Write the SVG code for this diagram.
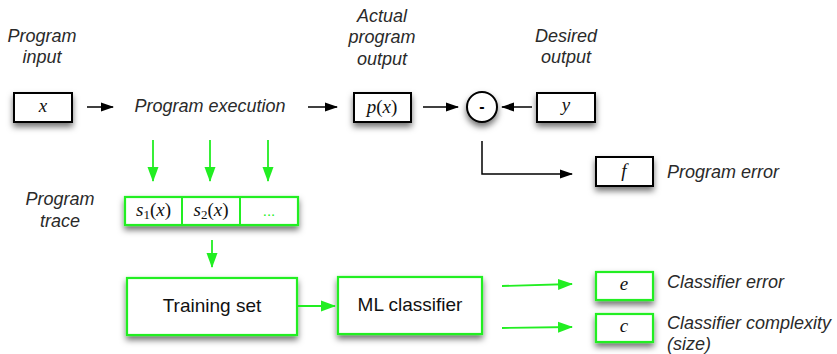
<svg xmlns="http://www.w3.org/2000/svg" width="837" height="354" viewBox="0 0 837 354">
<defs>
<filter id="sh" x="-30%" y="-30%" width="160%" height="180%">
<feDropShadow dx="0" dy="4" stdDeviation="3" flood-color="#000" flood-opacity="0.55"/>
</filter>
<marker id="ak" markerWidth="13" markerHeight="10" refX="12" refY="5" orient="auto" markerUnits="userSpaceOnUse">
<path d="M0,0.5 L13,5 L0,9.5 z" fill="#000"/>
</marker>
<marker id="ag" markerWidth="15" markerHeight="12" refX="14" refY="6" orient="auto" markerUnits="userSpaceOnUse">
<path d="M0,0.5 L15,6 L0,11.5 z" fill="#22ee22"/>
</marker>
</defs>
<style>
.bk{fill:#fff;stroke:#000;stroke-width:2}
.bg{fill:#fff;stroke:#22ee22;stroke-width:2.2}
.lab{font-family:"Liberation Sans",Arial,sans-serif;font-style:italic;font-size:18px;fill:#2a2a2a}
.math{font-family:"Liberation Serif","Times New Roman",serif;font-size:19px;fill:#111}
.it{font-style:italic}
.main{font-family:"Liberation Sans",Arial,sans-serif;font-size:19px;fill:#111}
.ck{stroke:#000;stroke-width:1.5;fill:none}
.cg{stroke:#22ee22;stroke-width:1.8;fill:none}
</style>

<g id="label-program-input">
<text class="lab" text-anchor="middle" x="42" y="42">Program</text>
<text class="lab" text-anchor="middle" x="42" y="63">input</text>
</g>
<g id="label-actual-output">
<text class="lab" text-anchor="middle" x="382" y="22">Actual</text>
<text class="lab" text-anchor="middle" x="382" y="43">program</text>
<text class="lab" text-anchor="middle" x="382" y="65">output</text>
</g>
<g id="label-desired-output">
<text class="lab" text-anchor="middle" x="566" y="42">Desired</text>
<text class="lab" text-anchor="middle" x="566" y="63">output</text>
</g>

<g id="node-x">
<rect class="bk" x="14" y="93" width="58" height="29" filter="url(#sh)"/>
<text class="math it" text-anchor="middle" x="43" y="112">x</text>
</g>
<g id="node-exec">
<text class="lab" text-anchor="middle" x="210" y="112">Program execution</text>
</g>
<g id="node-px">
<rect class="bk" x="354" y="93" width="57" height="29" filter="url(#sh)"/>
<text class="math" text-anchor="middle" x="382" y="113"><tspan class="it">p</tspan>(<tspan class="it">x</tspan>)</text>
</g>
<g id="node-minus">
<circle cx="482" cy="107" r="15" fill="#fff" stroke="#000" stroke-width="2" filter="url(#sh)"/>
<text text-anchor="middle" x="482" y="112" font-family="Liberation Sans,Arial,sans-serif" font-size="16" font-weight="bold">-</text>
</g>
<g id="node-y">
<rect class="bk" x="537" y="93" width="58" height="29" filter="url(#sh)"/>
<text class="math it" text-anchor="middle" x="566" y="111">y</text>
</g>
<g id="node-f">
<rect class="bk" x="596" y="157" width="57" height="29" filter="url(#sh)"/>
<text class="math it" text-anchor="middle" x="624" y="177">f</text>
<text class="lab" x="667" y="178">Program error</text>
</g>

<g id="label-trace">
<text class="lab" text-anchor="middle" x="60" y="205">Program</text>
<text class="lab" text-anchor="middle" x="60" y="227">trace</text>
</g>
<g id="node-trace">
<rect class="bg" x="125" y="197" width="173" height="28" filter="url(#sh)"/>
<line x1="182" y1="197" x2="182" y2="225" stroke="#22ee22" stroke-width="2"/>
<line x1="240" y1="197" x2="240" y2="225" stroke="#22ee22" stroke-width="2"/>
<text class="math" text-anchor="middle" x="153.5" y="216"><tspan class="it">s</tspan><tspan font-size="13" dy="3">1</tspan><tspan dy="-3">(</tspan><tspan class="it">x</tspan>)</text>
<text class="math" text-anchor="middle" x="211" y="216"><tspan class="it">s</tspan><tspan font-size="13" dy="3">2</tspan><tspan dy="-3">(</tspan><tspan class="it">x</tspan>)</text>
<text text-anchor="middle" x="269" y="216" font-family="Liberation Sans,Arial,sans-serif" font-size="15" fill="#22ee22">...</text>
</g>

<g id="node-training">
<rect class="bg" x="127" y="278" width="170" height="57" filter="url(#sh)"/>
<text class="main" text-anchor="middle" x="212" y="312">Training set</text>
</g>
<g id="node-ml">
<rect class="bg" x="338" y="277" width="144" height="57" filter="url(#sh)"/>
<text class="main" text-anchor="middle" x="410" y="311">ML classifier</text>
</g>
<g id="node-e">
<rect class="bg" x="596" y="272" width="57" height="28" filter="url(#sh)"/>
<text class="math it" text-anchor="middle" x="624" y="290">e</text>
<text class="lab" x="667" y="288">Classifier error</text>
</g>
<g id="node-c">
<rect class="bg" x="596" y="314" width="57" height="28" filter="url(#sh)"/>
<text class="math it" text-anchor="middle" x="624" y="332">c</text>
<text class="lab" x="667" y="329">Classifier complexity</text>
<text class="lab" x="667" y="350">(size)</text>
</g>

<g id="connectors">
<line class="ck" x1="87" y1="107" x2="113" y2="107" marker-end="url(#ak)"/>
<line class="ck" x1="308" y1="107" x2="337" y2="107" marker-end="url(#ak)"/>
<line class="ck" x1="423" y1="107" x2="458" y2="107" marker-end="url(#ak)"/>
<line class="ck" x1="532" y1="107" x2="502" y2="107" marker-end="url(#ak)"/>
<path class="ck" d="M482,141 L482,174 L572,174" marker-end="url(#ak)"/>
<line class="cg" x1="153" y1="140" x2="153" y2="181" marker-end="url(#ag)"/>
<line class="cg" x1="210" y1="140" x2="210" y2="181" marker-end="url(#ag)"/>
<line class="cg" x1="268" y1="140" x2="268" y2="181" marker-end="url(#ag)"/>
<line class="cg" x1="212" y1="240" x2="212" y2="267" marker-end="url(#ag)"/>
<line class="cg" x1="297" y1="306" x2="335" y2="306" marker-end="url(#ag)"/>
<line class="cg" x1="502" y1="286" x2="572" y2="284" marker-end="url(#ag)"/>
<line class="cg" x1="502" y1="328" x2="572" y2="327" marker-end="url(#ag)"/>
</g>
</svg>
